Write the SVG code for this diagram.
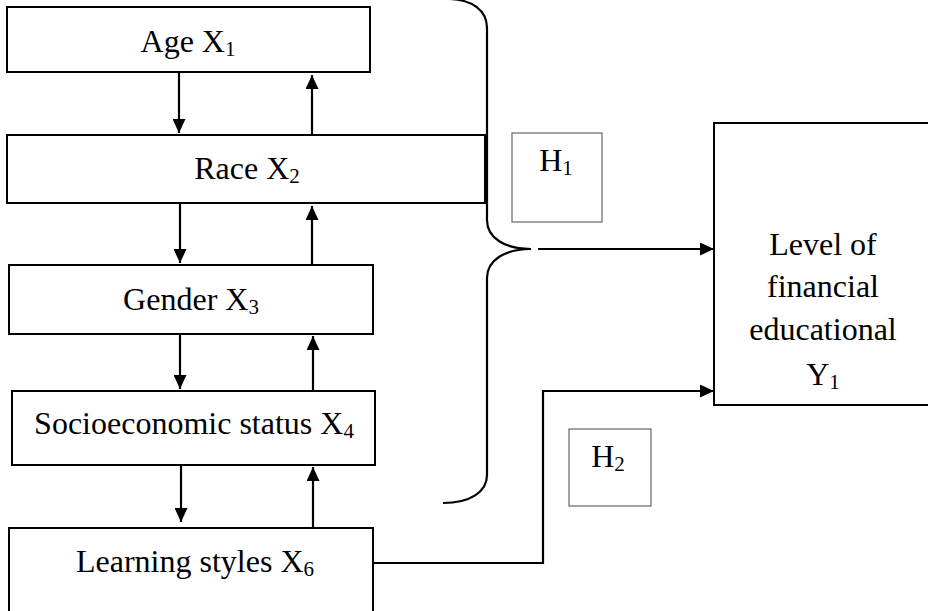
<svg xmlns="http://www.w3.org/2000/svg" width="928" height="611" viewBox="0 0 928 611">
<style>
.box{fill:#fff;stroke:#000;stroke-width:2}
.hbox{fill:#fff;stroke:#666;stroke-width:1.2}
.t{font-family:"Liberation Serif","Times New Roman",serif;font-size:32px;fill:#000;text-anchor:middle}
.sub{font-size:21px}
.c{fill:none;stroke:#000;stroke-width:2.2}
</style>
<defs>
<marker id="ah" markerUnits="userSpaceOnUse" markerWidth="15" markerHeight="13" refX="14" refY="6.5" orient="auto">
<path d="M0,0 L14,6.5 L0,13 Z" fill="#000"/>
</marker>
</defs>
<g id="age"><rect class="box" x="7" y="7" width="363" height="65"/><text class="t" x="188" y="52">Age X<tspan class="sub" dy="4">1</tspan></text></g>
<g id="race"><rect class="box" x="7" y="135" width="478" height="68"/><text class="t" x="247" y="179">Race X<tspan class="sub" dy="4">2</tspan></text></g>
<g id="gender"><rect class="box" x="9" y="265" width="364" height="69"/><text class="t" x="191" y="310">Gender X<tspan class="sub" dy="4">3</tspan></text></g>
<g id="socio"><rect class="box" x="12" y="391" width="363" height="74"/><text class="t" x="194" y="434">Socioeconomic status X<tspan class="sub" dy="4">4</tspan></text></g>
<g id="learning"><rect class="box" x="9" y="528" width="364" height="95"/><text class="t" x="195" y="572">Learning styles X<tspan class="sub" dy="4">6</tspan></text></g>
<g id="h1"><rect class="hbox" x="512" y="133" width="90" height="89"/><text class="t" x="556" y="171">H<tspan class="sub" dy="4">1</tspan></text></g>
<g id="h2"><rect class="hbox" x="569" y="429" width="82" height="77"/><text class="t" x="608" y="467">H<tspan class="sub" dy="4">2</tspan></text></g>
<g id="y1"><rect class="box" x="714" y="123" width="222" height="282"/>
<text class="t" x="823" y="255">Level of</text>
<text class="t" x="823" y="297">financial</text>
<text class="t" x="823" y="340">educational</text>
<text class="t" x="823" y="385">Y<tspan class="sub" dy="4">1</tspan></text></g>
<g id="connectors">
<path class="c" d="M179,73 V133" marker-end="url(#ah)"/>
<path class="c" d="M312,135 V75" marker-end="url(#ah)"/>
<path class="c" d="M180,204 V263" marker-end="url(#ah)"/>
<path class="c" d="M312,265 V206" marker-end="url(#ah)"/>
<path class="c" d="M180,335 V389" marker-end="url(#ah)"/>
<path class="c" d="M313,391 V336" marker-end="url(#ah)"/>
<path class="c" d="M181,466 V522" marker-end="url(#ah)"/>
<path class="c" d="M313,528 V467" marker-end="url(#ah)"/>
<path class="c" d="M450,-1 C472,0 487,10 487,28 V220 C487,238 505,249 531,249 M531,249 C505,249 487,260 487,278 V475 C487,492 470,503 443,503"/>
<path class="c" d="M538,249 H714" marker-end="url(#ah)"/>
<path class="c" d="M373,563 H543 V391 H714" marker-end="url(#ah)"/>
</g>
</svg>
